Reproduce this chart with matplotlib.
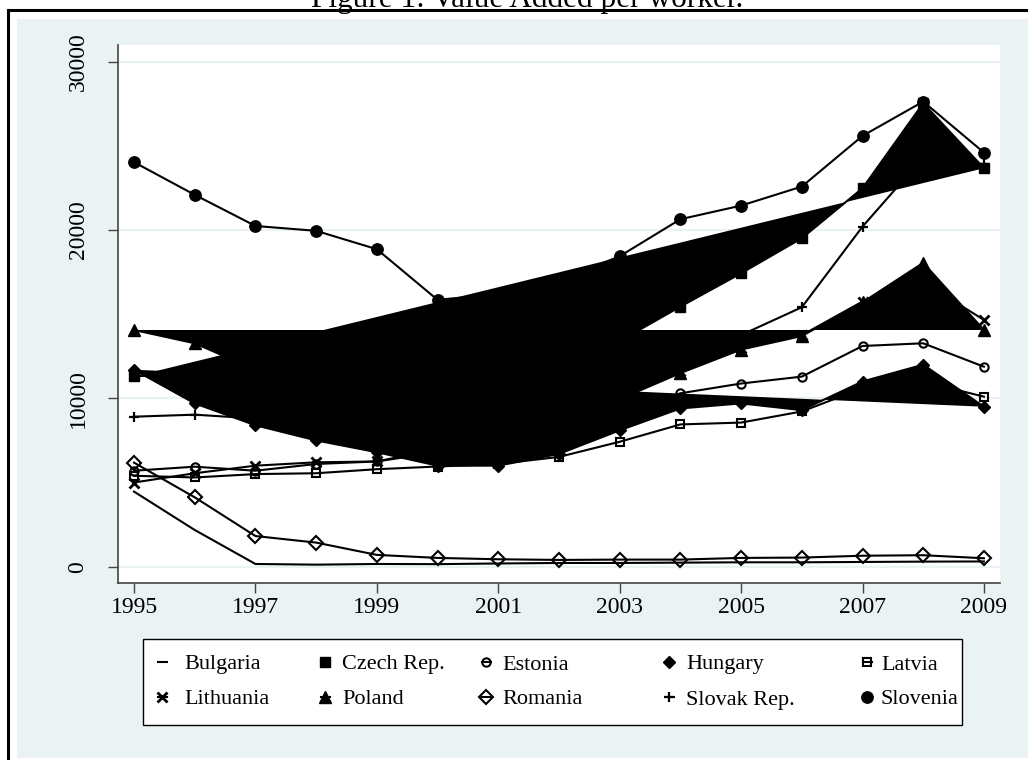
import matplotlib
matplotlib.use("Agg")
import matplotlib.pyplot as plt
from matplotlib.lines import Line2D
from matplotlib.patches import Rectangle

plt.rcParams['font.family'] = ['Liberation Serif', 'DejaVu Serif']

# ---- data -------------------------------------------------------------
years = list(range(1995, 2010))

bulgaria  = [4460, 2180, 160, 120, 160, 150, 190, 220, 220, 240, 260, 260, 280, 300, 310]
czech     = [11300, 11500, 11000, 11100, 11400, 11900, 12300, 12800, 13400, 15450,
             17430, 19510, 22480, 27530, 23670]
estonia   = [5700, 5940, 5700, 6100, 6250, 6800, 7300, 8100, 9100, 10300,
             10880, 11290, 13110, 13270, 11880]
hungary   = [11700, 9700, 8400, 7500, 6800, 6000, 6000, 6700, 8100, 9400,
             9700, 9300, 11000, 12000, 9500]
latvia    = [5400, 5300, 5500, 5550, 5790, 5950, 6100, 6520, 7420, 8450,
             8560, 9220, 10600, 11000, 10100]
lithuania = [5000, 5550, 6000, 6200, 6250, 7000, 7800, 8700, 10300, 11600,
             13000, 13750, 15750, 16900, 14660]
poland    = [14060, 13270, 11700, 10500, 9800, 9300, 9200, 9400, 9950, 11500,
             12900, 13700, 15700, 18050, 14060]
romania   = [6180, 4120, 1820, 1430, 700, 520, 440, 400, 420, 420, 520, 540, 650, 680, 500]
slovak    = [8910, 9030, 8800, 9000, 9300, 9800, 10300, 10900, 11600, 12500,
             13760, 15410, 20200, 24310, 23900]
slovenia  = [24030, 22090, 20240, 19950, 18860, 15850, 16200, 17000, 18440, 20640,
             21450, 22580, 25590, 27630, 24600]

countries = ["Bulgaria", "Czech Rep.", "Estonia", "Hungary", "Latvia",
             "Lithuania", "Poland", "Romania", "Slovak Rep.", "Slovenia"]
series = [bulgaria, czech, estonia, hungary, latvia,
          lithuania, poland, romania, slovak, slovenia]

y_ticks = [0, 10000, 20000, 30000]
x_ticks = list(range(1995, 2010, 2))
title = "Figure 1: Value Added per worker."

# ---- styles -----------------------------------------------------------
#           marker, size, face,    edge width, closed polygon
styles = [
    (None, 0,   'black', 1.0, False),   # Bulgaria
    ('s',  7.0, 'black', 1.0, True),    # Czech Rep.
    ('o',  6.0, 'none',  1.5, False),   # Estonia
    ('D',  6.6, 'black', 1.0, True),    # Hungary
    ('s',  5.2, 'none',  1.5, False),   # Latvia
    ('x',  6.8, 'black', 2.0, False),   # Lithuania
    ('^',  8.5, 'black', 1.0, True),    # Poland
    ('D',  7.0, 'none',  1.5, False),   # Romania
    ('+',  7.0, 'black', 1.6, False),   # Slovak Rep.
    ('o',  8.2, 'black', 1.0, False),   # Slovenia
]

PANEL = '#EAF2F3'
W, H = 1028, 760


def fx(x):
    return x / W


def fy(y):
    return 1 - y / H


fig = plt.figure(figsize=(W / 100, H / 100), dpi=100)
fig.patch.set_facecolor('white')

# outer graph region and frame
fig.patches.append(Rectangle((fx(17), fy(758)), (W - 17) / W, (758 - 19) / H,
                             transform=fig.transFigure, facecolor=PANEL,
                             edgecolor='none', zorder=-5))
fig.add_artist(Line2D([fx(8), fx(8)], [0, fy(10)], color='black', lw=2.2,
                      transform=fig.transFigure, zorder=-4))
fig.add_artist(Line2D([fx(8), 1], [fy(10), fy(10)], color='black', lw=2.2,
                      transform=fig.transFigure, zorder=-4))

fig.text(fx(527), fy(7.5), title, ha='center', va='baseline', fontsize=22.5)

ax = fig.add_axes([fx(118), fy(583), 882 / W, 538 / H])
ax.set_zorder(1)
ax.set_facecolor('white')
ax.set_xlim(1994.736, 2009.265)
ax.set_ylim(-970, 30990)

for y in y_ticks:
    ax.axhline(y, color=PANEL, lw=1.6, zorder=1)

for i, (name, vals) in enumerate(zip(countries, series)):
    m, ms, face, mew, closed = styles[i]
    z = 2 + i * 0.1
    if closed:
        ax.fill(years, vals, color='black', lw=0, zorder=z)
    ax.plot(years, vals, color='black', lw=1.5, marker=m, ms=ms,
            mfc=face, mec='black', mew=mew, zorder=z + 0.05, label=name)

ax.set_yticks(y_ticks)
ax.set_yticklabels([str(v) for v in y_ticks], rotation=90, va='center')
ax.set_xticks(x_ticks)
ax.set_xticklabels([str(v) for v in x_ticks])
ax.tick_params(axis='both', length=7.2, width=1.0, color='#444444',
               labelsize=17, direction='out')
ax.tick_params(axis='y', pad=14)
ax.tick_params(axis='x', pad=3)
for side in ('top', 'right'):
    ax.spines[side].set_visible(False)
for side in ('left', 'bottom'):
    ax.spines[side].set_color('#444444')
    ax.spines[side].set_linewidth(1.2)

# ---- legend: two rows of five keys inside a framed box ----------------
fig.patches.append(Rectangle((fx(143), fy(725)), (962 - 143) / W, (725 - 639) / H,
                             transform=fig.transFigure, facecolor='white',
                             edgecolor='black', lw=1.0, zorder=2))
key_x = [162, 325, 486, 669, 867]
text_x = [184, 342, 502, 686, 881]
row_y = [662, 697]
for k, name in enumerate(countries):
    m, ms, face, mew, _ = styles[k]
    r, c = divmod(k, 5)
    kx, ky = key_x[c], row_y[r]
    fig.add_artist(Line2D([fx(kx - 4.5), fx(kx + 4.5)], [fy(ky), fy(ky)],
                          color='black', lw=1.5, transform=fig.transFigure,
                          zorder=3))
    if m is not None:
        fig.add_artist(Line2D([fx(kx)], [fy(ky)], ls='none', marker=m, ms=ms,
                              mfc=face, mec='black', mew=mew,
                              transform=fig.transFigure, zorder=3))
    fig.text(fx(text_x[c]), fy(ky + 7.5), name, ha='left', va='baseline',
             fontsize=16, zorder=3)

fig.savefig('out.png', dpi=100)
